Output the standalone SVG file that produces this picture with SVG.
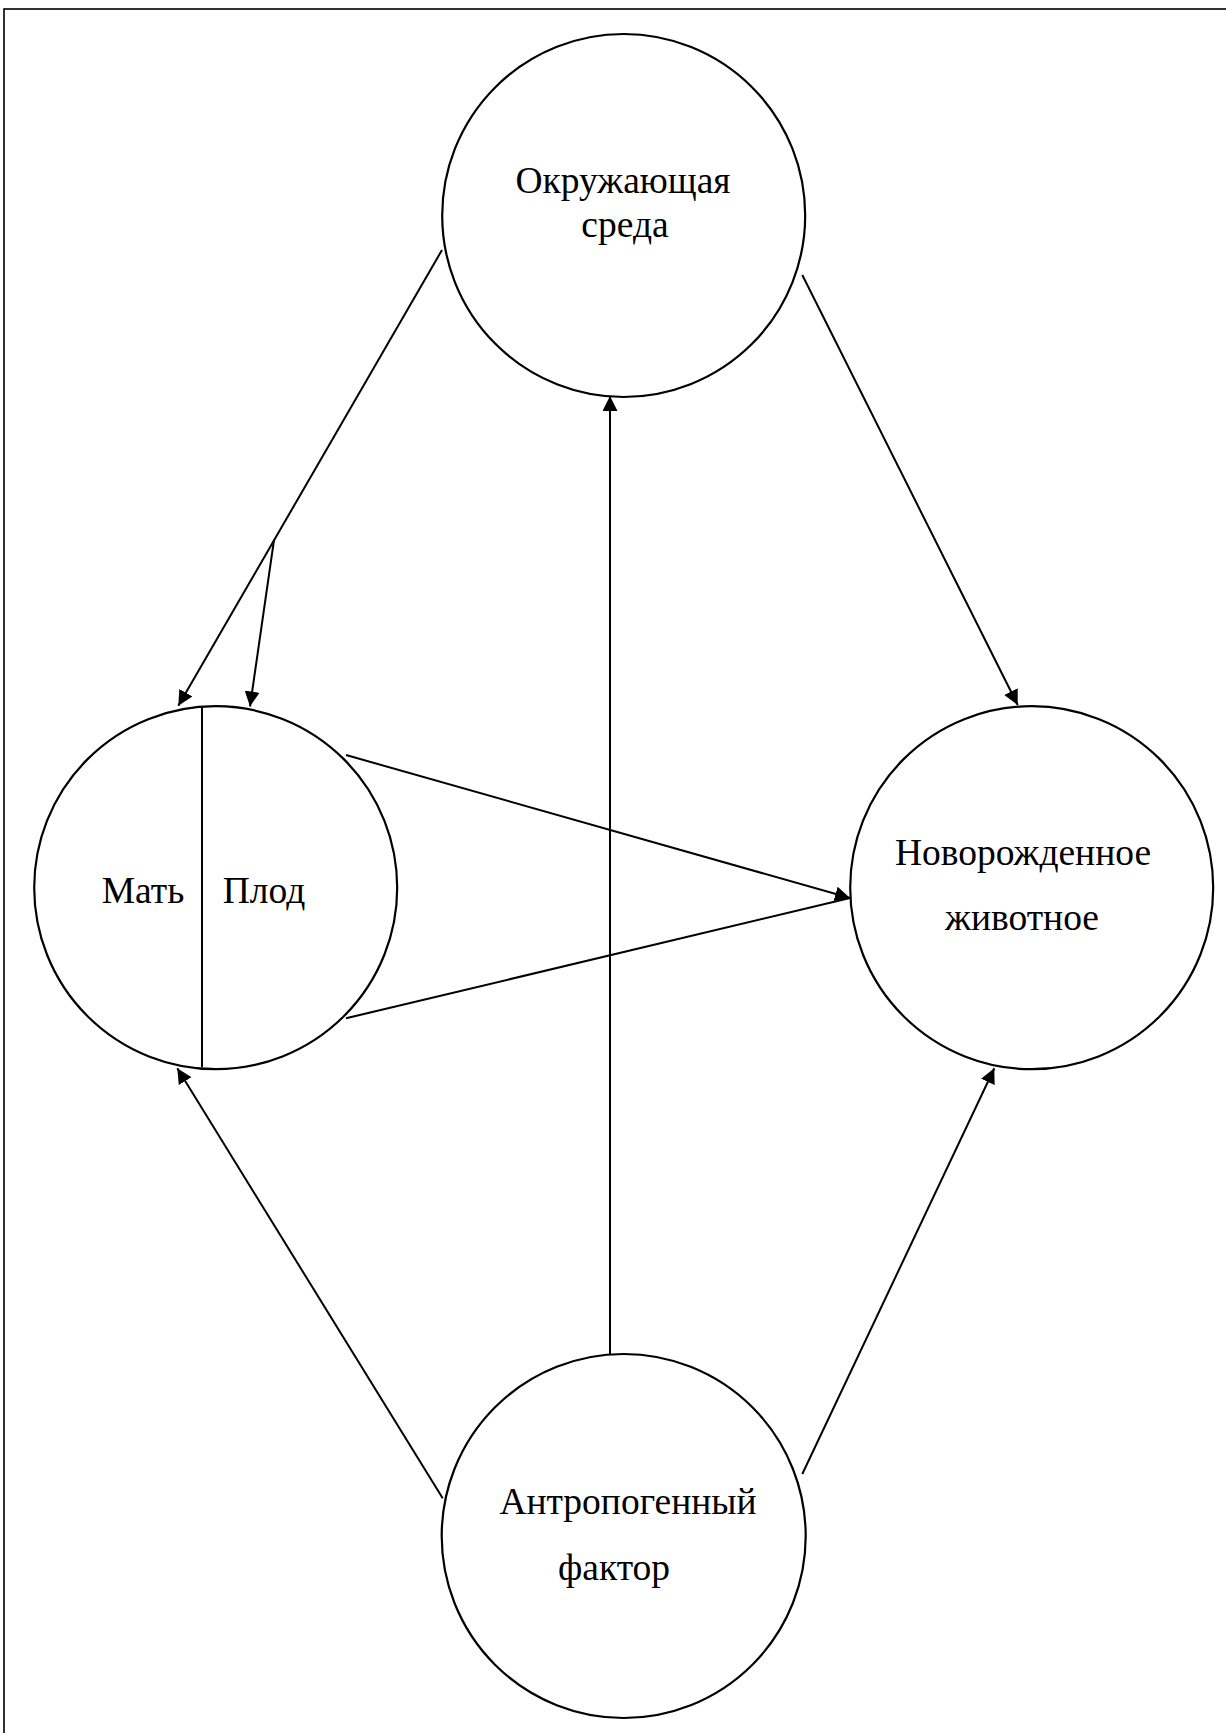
<svg xmlns="http://www.w3.org/2000/svg" width="1226" height="1733" viewBox="0 0 1226 1733">
<style>
.node{fill:#fff;stroke:#000;stroke-width:2.2}
.lbl{font-family:"Liberation Serif","Times New Roman",serif;font-size:37.5px;fill:#000;text-anchor:middle}
.conn{stroke:#000;stroke-width:2;fill:none}
</style>
<defs>
<marker id="arr" markerUnits="userSpaceOnUse" markerWidth="16" markerHeight="16" refX="15" refY="7.5" orient="auto" viewBox="0 0 16 16">
<path d="M0,0 L15,7.5 L0,15 z" fill="#000"/>
</marker>
</defs>
<rect x="4" y="9" width="1400" height="1900" fill="#fff" stroke="#000" stroke-width="1.6"/>
<g id="nodes">
<g id="env">
<circle class="node" cx="623.7" cy="215.5" r="181.5"/>
<text class="lbl" x="623" y="193">Окружающая</text>
<text class="lbl" x="625" y="237">среда</text>
</g>
<g id="mother-fetus">
<circle class="node" cx="215.7" cy="887.7" r="181.5"/>
<line x1="202" y1="706.5" x2="202" y2="1067" stroke="#000" stroke-width="2"/>
<text class="lbl" x="143" y="903">Мать</text>
<text class="lbl" x="264" y="903">Плод</text>
</g>
<g id="newborn">
<circle class="node" cx="1031.7" cy="887.7" r="181.5"/>
<text class="lbl" x="1023" y="865">Новорожденное</text>
<text class="lbl" x="1022" y="930">животное</text>
</g>
<g id="anthropogenic">
<circle class="node" cx="623.7" cy="1536" r="182"/>
<text class="lbl" x="628" y="1514">Антропогенный</text>
<text class="lbl" x="614" y="1580">фактор</text>
</g>
</g>
<g id="connectors">
<line class="conn" x1="442" y1="250" x2="178.3" y2="705.7" marker-end="url(#arr)"/>
<line class="conn" x1="274" y1="540" x2="250" y2="706.5" marker-end="url(#arr)"/>
<line class="conn" x1="802.3" y1="275" x2="1017.7" y2="705" marker-end="url(#arr)"/>
<line class="conn" x1="610" y1="1354" x2="610" y2="396" marker-end="url(#arr)"/>
<line class="conn" x1="346" y1="755" x2="850" y2="898" marker-end="url(#arr)"/>
<line class="conn" x1="346" y1="1018.3" x2="850" y2="898"/>
<line class="conn" x1="442.7" y1="1498.3" x2="177.3" y2="1068.3" marker-end="url(#arr)"/>
<line class="conn" x1="802.3" y1="1474" x2="994.3" y2="1068.3" marker-end="url(#arr)"/>
</g>
</svg>
